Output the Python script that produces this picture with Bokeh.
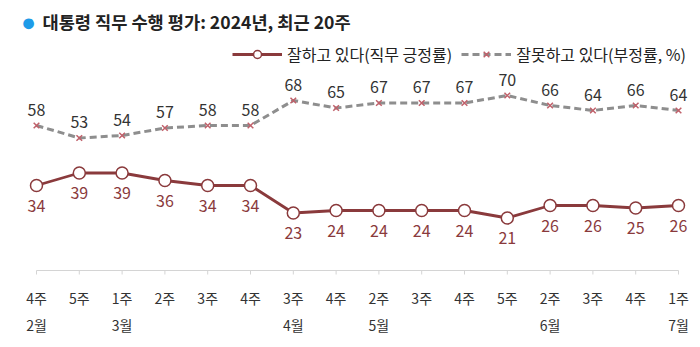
import math
from bokeh.plotting import figure
from bokeh.models import Range1d, Label, Legend, LegendItem, ColumnDataSource
from bokeh.core.properties import value
from bokeh.embed import file_html
from bokeh.resources import INLINE

weeks = ["4주", "5주", "1주", "2주", "3주", "4주", "3주", "4주", "2주", "3주", "4주", "5주", "2주", "3주", "4주", "1주"]
months = ["2월", "", "3월", "", "", "", "4월", "", "5월", "", "", "", "6월", "", "", "7월"]
positive = [34, 39, 39, 36, 34, 34, 23, 24, 24, 24, 24, 21, 26, 26, 25, 26]
negative = [58, 53, 54, 57, 58, 58, 68, 65, 67, 67, 67, 70, 66, 64, 66, 64]

FONT = "Noto Sans CJK KR"
RED = "#8A3A3C"
GRAY = "#8E8E8E"

idx = list(range(len(weeks)))
src = ColumnDataSource(dict(
    x=idx, pos=positive, neg=negative,
    pos_t=[str(v) for v in positive], neg_t=[str(v) for v in negative],
    wk=weeks, mo=months, zero=[0] * len(idx),
))

p = figure(width=700, height=347, output_backend="svg", toolbar_location=None,
           x_axis_location=None, y_axis_location=None, min_border=0,
           x_range=Range1d(-0.841, 15.514), y_range=Range1d(-30.8, 108.0))
p.outline_line_color = None
p.xgrid.visible = False
p.ygrid.visible = False
p.background_fill_color = "white"
p.border_fill_color = "white"

# axis line and ticks
p.line(x=[idx[0], idx[-1]], y=[0, 0], line_color="#D4D4D4", line_width=1)
p.ray(x="x", y="zero", source=src, length=4, length_units="screen", angle=-math.pi / 2,
      line_color="#D4D4D4", line_width=1)
p.text(x="x", y="zero", text="wk", source=src, text_font=value(FONT), text_font_size="14px",
       text_color="#333333", text_align="center", text_baseline="middle", y_offset=27)
p.text(x="x", y="zero", text="mo", source=src, text_font=value(FONT), text_font_size="14px",
       text_color="#333333", text_align="center", text_baseline="middle", y_offset=54)

# negative series
nl = p.line(x="x", y="neg", source=src, line_color=GRAY, line_width=3, line_dash="7 4")
nm = p.scatter(x="x", y="neg", source=src, marker="x", size=8, line_color="#C0606A", line_width=1.5)
p.text(x="x", y="neg", text="neg_t", source=src, text_font=value(FONT), text_font_size="16px",
       text_color="#333333", text_align="center", text_baseline="middle", y_offset=-16)

# positive series
pl = p.line(x="x", y="pos", source=src, line_color=RED, line_width=2.8)
pm = p.scatter(x="x", y="pos", source=src, marker="circle", size=12, fill_color="white",
               line_color=RED, line_width=1.5)
p.text(x="x", y="pos", text="pos_t", source=src, text_font=value(FONT), text_font_size="16px",
       text_color=RED, text_align="center", text_baseline="middle", y_offset=20)

legend = Legend(items=[LegendItem(label="잘하고 있다(직무 긍정률)", renderers=[pl, pm]),
                       LegendItem(label="잘못하고 있다(부정률, %)", renderers=[nl, nm])],
                orientation="horizontal", location=(232, 281), glyph_width=50, glyph_height=20,
                label_standoff=5, spacing=9, padding=0, margin=0,
                border_line_alpha=0, background_fill_alpha=0,
                label_text_font=FONT, label_text_font_size="16px", label_text_color="#222222")
p.add_layout(legend)

p.add_layout(Label(x=28, y=326, x_units="screen", y_units="screen", text="●",
                   text_color="#1E9BE8", text_font_size="25px", text_align="center",
                   text_baseline="middle"))
p.add_layout(Label(x=42, y=326, x_units="screen", y_units="screen",
                   text="대통령 직무 수행 평가: 2024년, 최근 20주",
                   text_font=FONT, text_font_size="17.6px", text_font_style="bold",
                   text_color="#222222", text_baseline="middle"))

open("out.html", "w").write(file_html(p, INLINE))
